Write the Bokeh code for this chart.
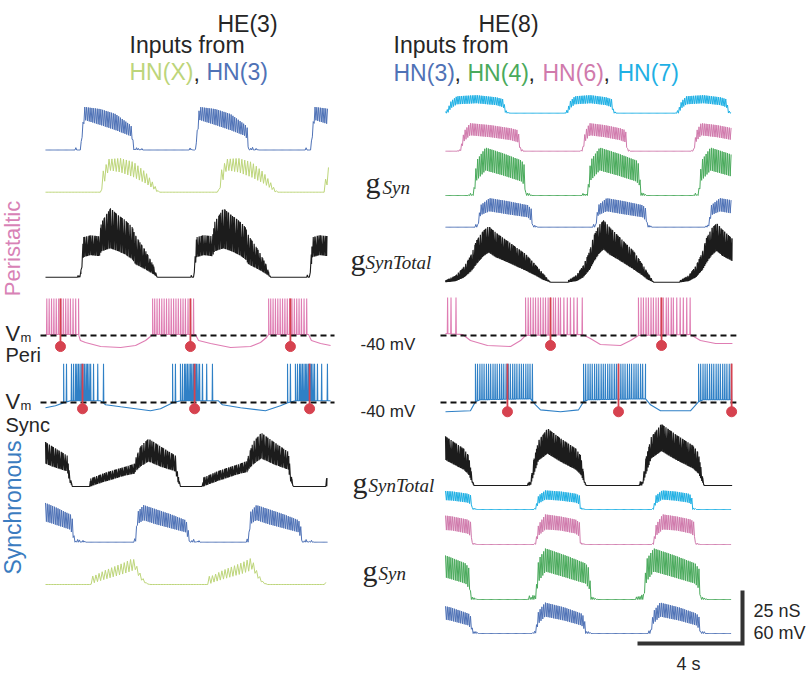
import numpy as np
from bokeh.plotting import figure
from bokeh.models import Range1d
from bokeh.embed import file_html
from bokeh.resources import INLINE
from bokeh.core.properties import value

# ---------------- scale bar values ----------------
SCALE_S = 4      # s
SCALE_NS = 25    # nS
SCALE_MV = 60    # mV
VM_REF = -40     # mV (dashed line)

# ---------------- colours ----------------
C_HN3 = "#4f72b6"
C_HNX = "#bdd57a"
C_HN4 = "#4aaa5c"
C_HN6 = "#d07aac"
C_HN7 = "#1fb0e4"
C_TOT = "#1c1c1c"
C_VPERI = "#df7db3"
C_VSYNC = "#2f80c6"
C_RED = "#d6424f"
C_TXT = "#262626"

# ---------------- conductance data (template envelopes, nS; u = fraction of burst) ----------------
# Left column (HE(3)), peristaltic
LP_HN3_U = [-0.113, -0.094, -0.057, 0, 0.075, 0.377, 0.660, 0.943, 0.981, 1.0, 1.075, 1.113, 1.151, 1.189]
LP_HN3_HI = [0, 1.4, 0, 0, 20.3, 19.3, 17.0, 11.8, 10.4, 0, 1.4, 0, 0.9, 0]
LP_HN3_LO = [0, 0, 0, 0, 14.2, 11.8, 9.4, 6.6, 4.7, 0, 0, 0, 0, 0]
LP_HN3_ON = [1.33, 5.71, 10.10]
LP_HN3_DUR = [2.02, 2.02, 2.02]

LP_HNX_U = [0, 0.035, 0.140, 0.351, 0.579, 0.789, 0.912, 1.0, 1.053]
LP_HNX_HI = [0, 9.4, 15.6, 16.0, 14.2, 9.4, 4.7, 0.9, 0]
LP_HNX_LO = [0, 2.4, 10.4, 9.4, 7.1, 4.2, 1.9, 0, 0]
LP_HNX_ON = [2.10, 6.59, 10.62]
LP_HNX_DUR = [2.17, 2.17, 2.17]

LP_TOT_U = [-0.039, -0.026, -0.013, 0, 0.039, 0.130, 0.247, 0.273, 0.390, 0.494, 0.584, 0.675, 0.714, 0.844, 0.948, 1.0, 1.039]
LP_TOT_HI = [0, 1.4, 0, 0, 18.9, 19.8, 19.3, 25.9, 32.5, 29.2, 26.9, 23.6, 19.8, 12.7, 5.7, 0, 0]
LP_TOT_LO = [0, 0, 0, 0, 9.4, 10.4, 9.9, 12.2, 13.6, 12.2, 10.7, 8.4, 6.1, 3.7, 1.4, 0, 0]
LP_TOT_ON = [1.33, 5.64, 10.06]
LP_TOT_DUR = [2.93, 2.93, 2.93]

# Left column, synchronous
LS_TOT_U = [-1.022, -1.0, -0.889, -0.667, -0.444, -0.222, -0.022, 0, 0.111, 0.289, 0.556, 0.889, 0.933, 1.0]
LS_TOT_HI = [0, 3.8, 4.7, 6.6, 8.0, 9.4, 10.8, 13.2, 18.9, 22.6, 18.9, 14.6, 7.1, 0]
LS_TOT_LO = [0, 0, 0.9, 2.4, 3.8, 5.2, 6.1, 7.1, 9.4, 11.8, 9.4, 7.1, 2.4, 0]
LS_TOT_ON = [-0.69, 3.43, 7.73, 12.40]
LS_TOT_DUR = [1.71, 1.71, 1.71, 1.71]
LS_TOT_GAIN = [1.0, 1.0, 1.12, 1.0]

LS_HN3_U = [-0.037, -0.019, 0, 0.037, 0.148, 0.370, 0.648, 0.926, 0.963, 1.0, 1.074, 1.111, 1.167, 1.204]
LS_HN3_HI = [0, 1.9, 0.9, 14.2, 17.5, 15.6, 13.2, 10.4, 8.5, 0, 1.4, 0, 0.9, 0]
LS_HN3_LO = [0, 0, 0, 8.5, 10.4, 8.5, 6.6, 4.7, 2.4, 0, 0, 0, 0, 0]
LS_HN3_ON = [-0.95, 3.43, 7.73]
LS_HN3_DUR = [2.06, 2.06, 2.06]
LS_HN3_GAIN = [1.25, 1.0, 1.0]

LS_HNX_U = [0, 0.023, 0.114, 0.341, 0.568, 0.795, 0.977, 1.023, 1.091, 1.182, 1.273, 1.364]
LS_HNX_HI = [0, 3.8, 4.2, 6.6, 8.5, 10.4, 12.3, 11.3, 7.5, 3.8, 0.9, 0]
LS_HNX_LO = [0, 0, 0.9, 2.4, 3.8, 5.2, 6.6, 7.5, 4.7, 1.9, 0.5, 0]
LS_HNX_ON = [1.68, 6.17, 10.67]
LS_HNX_DUR = [1.68, 1.68, 1.68]

# Right column (HE(8)), peristaltic
RP_HN7_U = [-0.06, 0, 0.06, 0.16, 0.5, 0.84, 0.96, 1.0, 1.04, 1.08]
RP_HN7_HI = [0, 1.9, 5.7, 8.0, 8.5, 7.5, 6.6, 1.4, 0.5, 0]
RP_HN7_LO = [0, 0, 2.4, 4.2, 4.7, 3.8, 2.8, 0, 0, 0]
RP_HN7_ON = [0.08, 4.65, 8.88]
RP_HN7_DUR = [2.21, 1.75, 1.90]

RP_HN6_U = [-0.06, 0, 0.06, 0.16, 0.5, 0.84, 0.96, 1.0, 1.06]
RP_HN6_HI = [0, 0.9, 9.4, 13.2, 12.3, 10.8, 9.9, 1.4, 0]
RP_HN6_LO = [0, 0, 4.7, 7.5, 6.6, 5.2, 4.2, 0, 0]
RP_HN6_ON = [0.57, 5.22, 9.45]
RP_HN6_DUR = [2.29, 1.71, 1.79]

RP_HN4_U = [-0.096, -0.077, -0.038, 0, 0.058, 0.231, 0.577, 0.923, 0.981, 1.0, 1.077, 1.115]
RP_HN4_HI = [0, 1.9, 0, 1.4, 16.5, 22.6, 19.8, 16.5, 14.2, 1.4, 0.9, 0]
RP_HN4_LO = [0, 0, 0, 0, 7.1, 11.8, 9.4, 6.6, 4.7, 0, 0, 0]
RP_HN4_ON = [1.07, 5.41, 9.64]
RP_HN4_DUR = [1.98, 2.02, 1.98]

RP_HN3_U = [-0.055, -0.036, 0, 0.055, 0.218, 0.545, 0.909, 0.982, 1.0, 1.055, 1.091]
RP_HN3_HI = [0, 1.4, 0.9, 10.4, 13.7, 12.3, 10.4, 8.5, 0.9, 0.9, 0]
RP_HN3_LO = [0, 0, 0, 5.7, 7.5, 6.1, 4.7, 2.8, 0, 0, 0]
RP_HN3_ON = [1.22, 5.71, 10.02]
RP_HN3_DUR = [2.10, 1.98, 1.98]

RP_TOT_U = [0, 0.094, 0.176, 0.250, 0.294, 0.360, 0.412, 0.480, 0.576, 0.680, 0.765, 0.860, 0.929, 1.0]
RP_TOT_HI = [1.0, 3.4, 8.1, 15.0, 21.8, 27.0, 29.3, 26.0, 22.2, 18.0, 14.7, 9.0, 4.6, 0]
RP_TOT_LO = [0, 0.5, 2.4, 6.0, 9.4, 13.5, 15.5, 13.0, 10.8, 8.2, 6.0, 3.4, 1.2, 0]
RP_TOT_ON = [0.0, 4.69, 8.95]
RP_TOT_DUR = [4.0, 3.24, 3.35]
RP_TOT_GAIN = [0.9, 1.0, 0.95]

# Right column, synchronous
RS_TOT_U = [-0.055, -0.036, 0, 0.055, 0.145, 0.309, 0.545, 0.818, 0.909, 0.964, 1.0]
RS_TOT_HI = [0, 1.9, 1.4, 11.8, 21.2, 26.9, 22.2, 17.5, 14.2, 5.7, 0]
RS_TOT_LO = [0, 0, 0, 4.7, 11.8, 15.0, 11.2, 7.5, 5.2, 1.9, 0]
RS_TOT_ON = [-1.03, 3.24, 7.50]
RS_TOT_DUR = [2.10, 2.10, 2.35]
RS_TOT_GAIN = [1.0, 1.0, 1.08]

RS_HN7_U = [-0.044, 0, 0.067, 0.222, 0.556, 0.889, 0.978, 1.0, 1.067, 1.111]
RS_HN7_HI = [0, 0.9, 6.6, 9.0, 8.5, 7.5, 6.6, 0.9, 0.5, 0]
RS_HN7_LO = [0, 0, 2.8, 4.7, 4.2, 3.3, 2.4, 0, 0, 0]
RS_HN7_ON = [-0.69, 3.43, 7.92]
RS_HN7_DUR = [1.71, 1.71, 1.49]

RS_HN6_U = [-0.044, 0, 0.067, 0.222, 0.556, 0.889, 0.978, 1.0, 1.067, 1.111]
RS_HN6_HI = [0, 0.9, 9.4, 14.2, 13.2, 11.8, 10.4, 0.9, 0.5, 0]
RS_HN6_LO = [0, 0, 4.2, 7.1, 6.6, 5.2, 3.8, 0, 0, 0]
RS_HN6_ON = [-0.69, 3.43, 7.92]
RS_HN6_DUR = [1.71, 1.71, 1.60]

RS_HN4_U = [-0.145, -0.109, -0.073, -0.036, 0, 0.055, 0.182, 0.545, 0.909, 0.982, 1.0, 1.055, 1.127]
RS_HN4_HI = [0, 1.9, 0.9, 2.4, 1.4, 18.9, 24.1, 20.8, 17.0, 14.2, 1.4, 0.9, 0]
RS_HN4_LO = [0, 0, 0, 0, 0, 8.5, 13.2, 10.4, 7.5, 4.7, 0, 0, 0]
RS_HN4_ON = [-1.14, 3.43, 7.54]
RS_HN4_DUR = [2.10, 2.10, 2.17]

RS_HN3_U = [-0.058, -0.038, 0, 0.058, 0.192, 0.577, 0.923, 0.981, 1.0, 1.077, 1.115]
RS_HN3_HI = [0, 1.4, 0.9, 10.4, 14.6, 12.3, 9.4, 7.5, 0.9, 0.9, 0]
RS_HN3_LO = [0, 0, 0, 4.7, 8.0, 6.1, 3.8, 1.9, 0, 0, 0]
RS_HN3_ON = [-0.95, 3.43, 7.81]
RS_HN3_DUR = [1.98, 1.90, 1.90]

# ---------------- membrane potential data (s, mV) ----------------
LP_VM_T = [0, 1.26, 1.33, 1.52, 2.10, 2.86, 3.43, 3.81, 4.00, 4.08, 5.71, 5.83, 6.29, 7.05, 7.81, 8.19, 8.42, 8.50, 10.02, 10.13, 10.48, 10.86]
LP_VM_MV = [-38.9, -38.9, -45.7, -47.9, -52.5, -53.6, -51.3, -45.7, -41.1, -38.9, -38.9, -45.7, -49.1, -53.6, -52.5, -47.9, -42.3, -38.9, -38.9, -45.7, -49.1, -51.3]
LP_SPK = [0, 0.08, 0.17, 0.26, 0.35, 0.44, 0.53, 0.62, 0.71, 0.80, 0.89, 0.98, 1.07, 1.16, 1.25, 1.35, 1.45, 1.56]
LP_BURST_ON = [-0.30, 4.08, 8.50]
LP_BURST_END = [1.26, 5.71, 10.02]
LP_SPK_PEAK = 2.0
LP_MARK_T = [0.57, 5.52, 9.33]
LP_MARK_MV = -52.5

LS_VM_T = [0, 0.38, 0.69, 0.95, 2.10, 2.29, 2.86, 4.00, 4.38, 4.84, 5.14, 6.59, 6.74, 7.43, 8.38, 8.95, 9.22, 9.52, 10.86]
LS_VM_MV = [-46.0, -43.7, -40.3, -38.1, -38.1, -42.6, -44.9, -49.4, -47.1, -40.3, -38.1, -38.1, -42.6, -46.0, -49.4, -43.7, -40.3, -38.1, -38.1]
LS_SPK = [0, 0.11, 0.30, 0.38, 0.46, 0.51, 0.57, 0.63, 0.69, 0.74, 0.80, 0.86, 0.91, 0.97, 1.03, 1.14, 1.30, 1.52]
LS_BURST_ON = [0.69, 4.84, 9.22]
LS_BURST_END = [2.21, 6.67, 10.86]
LS_SPK_PEAK = 4.0
LS_MARK_T = [1.41, 5.68, 10.06]
LS_MARK_MV = -47.1

RP_VM_T = [0, 0.65, 0.95, 1.60, 2.48, 2.86, 3.05, 5.22, 5.52, 5.90, 6.67, 7.05, 7.35, 9.33, 9.71, 10.29, 10.93]
RP_VM_MV = [-37.7, -38.9, -45.7, -51.3, -52.5, -45.7, -40.0, -38.9, -43.4, -50.2, -51.3, -45.7, -40.0, -38.9, -45.7, -49.1, -49.1]
RP_SPK = [0, 0.10, 0.19, 0.29, 0.38, 0.48, 0.57, 0.67, 0.76, 0.86, 0.95, 1.06, 1.14, 1.25, 1.33, 1.46, 1.59, 1.71, 1.84, 1.97, 2.16]
RP_BURST_ON = [-1.76, 3.05, 7.35]
RP_BURST_END = [0.45, 5.22, 9.33]
RP_SPK_PEAK = 3.0
RP_MARK_T = [4.00, 8.23]
RP_MARK_MV = -51.3

RS_VM_T = [0, 0.95, 1.14, 1.33, 3.24, 3.43, 3.62, 4.38, 5.07, 5.26, 5.45, 7.62, 7.81, 8.19, 9.33, 9.64, 9.83, 10.93]
RS_VM_MV = [-50.5, -49.4, -39.2, -36.9, -35.8, -42.6, -48.3, -50.5, -48.3, -39.2, -36.9, -35.8, -42.6, -49.4, -49.4, -39.2, -36.9, -36.9]
RS_SPK = [0, 0.08, 0.17, 0.25, 0.33, 0.42, 0.50, 0.58, 0.67, 0.75, 0.83, 0.92, 1.00, 1.08, 1.17, 1.25, 1.33, 1.42, 1.50, 1.58, 1.67, 1.75, 1.83, 1.92, 2.00, 2.08, 2.17, 2.25, 2.36]
RS_BURST_ON = [1.14, 5.26, 9.64]
RS_BURST_END = [3.31, 7.70, 10.93]
RS_SPK_PEAK = 4.0
RS_MARK_T = [2.36, 6.59, 10.90]
RS_MARK_MV = -50.5

# ---------------- layout (page pixels; the page has no margin) ----------------
PX_PER_S = 105 / SCALE_S
PX_PER_NS = 53 / SCALE_NS
PX_PER_MV = 53 / SCALE_MV
X_LEFT, X_RIGHT = 45, 445
T_END_L, T_END_R = 10.78, 10.93
W, H = 810, 673
P_DENSE = 0.068   # spike spacing used to draw dense HN bursts


def dx(px):
    return (px - X_LEFT) / PX_PER_S


def dy(py):
    return -py / PX_PER_NS


p = figure(width=W, height=H, output_backend="svg", toolbar_location=None,
           x_range=Range1d(dx(0), dx(W)), y_range=Range1d(dy(H), dy(0)),
           min_border=0, x_axis_location=None, y_axis_location=None,
           outline_line_color=None, background_fill_color="white",
           border_fill_color="white")
p.grid.visible = False


def zigzag(U, HI, LO, ON, DUR, t_end, period, period2=None, gain=None):
    s = np.arange(0, t_end + 1e-9, period)
    if period2:
        s = np.union1d(s, np.arange(period * 0.37, t_end, period2))
    tr = (s[:-1] + s[1:]) / 2.0
    t = np.empty(len(s) + len(tr))
    t[0::2] = s
    t[1::2] = tr
    is_peak = np.zeros(len(t), dtype=bool)
    is_peak[0::2] = True
    hi = np.zeros_like(t)
    lo = np.zeros_like(t)
    for k, (on, d) in enumerate(zip(ON, DUR)):
        g = gain[k] if gain else 1.0
        u = (t - on) / d
        hi += g * np.interp(u, U, HI, left=0, right=0)
        lo += g * np.interp(u, U, LO, left=0, right=0)
    return t, np.where(is_peak, hi, lo)


def g_trace(col_x, base_py, U, HI, LO, ON, DUR, t_end, period, color, gain=None,
            lw=1.0, period2=None):
    t, y = zigzag(U, HI, LO, ON, DUR, t_end, period, period2, gain)
    p.line(t + dx(col_x), y + dy(base_py), line_color=color, line_width=lw)


def vm_y(mv, dash_py):
    return dy(dash_py) + (np.asarray(mv) - VM_REF) * PX_PER_MV / PX_PER_NS


def vm_trace(col_x, dash_py, T, MV, SPK, B_ON, B_END, peak, t_end, color,
             mark_t, mark_mv, w=0.012):
    spikes = []
    for on, end in zip(B_ON, B_END):
        for r in SPK:
            s = on + r
            if 0.0 <= s <= min(end, t_end):
                spikes.append(s)
    ev = [(t, np.interp(t, T, MV)) for t in T]
    for s in spikes:
        ev += [(s - w, np.interp(s - w, T, MV)), (s, peak), (s + w, np.interp(s + w, T, MV))]
    ev.sort(key=lambda e: e[0])
    tt = np.array([e[0] for e in ev])
    vv = np.array([e[1] for e in ev])
    p.line(tt + dx(col_x), vm_y(vv, dash_py), line_color=color, line_width=1.1)
    p.line([dx(col_x - 5), dx(col_x) + t_end + 0.15], [vm_y(VM_REF, dash_py)] * 2,
           line_color="#111111", line_width=2, line_dash="6 4")
    mt = np.asarray(mark_t) + dx(col_x)
    p.segment(x0=mt, y0=[vm_y(peak, dash_py)] * len(mt), x1=mt,
              y1=[vm_y(mark_mv, dash_py)] * len(mt), line_color=C_RED, line_width=1.8)
    p.scatter(mt, [vm_y(mark_mv, dash_py)] * len(mt), size=10, fill_color=C_RED,
              line_color=C_RED)


# ---- left column ----
g_trace(X_LEFT, 149.5, LP_HN3_U, LP_HN3_HI, LP_HN3_LO, LP_HN3_ON, LP_HN3_DUR, T_END_L, P_DENSE, C_HN3)
g_trace(X_LEFT, 191.7, LP_HNX_U, LP_HNX_HI, LP_HNX_LO, LP_HNX_ON, LP_HNX_DUR, T_END_L, 0.11, C_HNX)
g_trace(X_LEFT, 276.7, LP_TOT_U, LP_TOT_HI, LP_TOT_LO, LP_TOT_ON, LP_TOT_DUR, T_END_L, 0.075, C_TOT,
        lw=1.1, period2=0.11)
vm_trace(X_LEFT, 335, LP_VM_T, LP_VM_MV, LP_SPK, LP_BURST_ON, LP_BURST_END, LP_SPK_PEAK, 10.86,
         C_VPERI, LP_MARK_T, LP_MARK_MV)
vm_trace(X_LEFT, 402, LS_VM_T, LS_VM_MV, LS_SPK, LS_BURST_ON, LS_BURST_END, LS_SPK_PEAK, 10.86,
         C_VSYNC, LS_MARK_T, LS_MARK_MV)
g_trace(X_LEFT, 486, LS_TOT_U, LS_TOT_HI, LS_TOT_LO, LS_TOT_ON, LS_TOT_DUR, T_END_L, 0.075, C_TOT,
        gain=LS_TOT_GAIN, lw=1.1, period2=0.12)
g_trace(X_LEFT, 541.7, LS_HN3_U, LS_HN3_HI, LS_HN3_LO, LS_HN3_ON, LS_HN3_DUR, T_END_L, P_DENSE, C_HN3,
        gain=LS_HN3_GAIN)
g_trace(X_LEFT, 584, LS_HNX_U, LS_HNX_HI, LS_HNX_LO, LS_HNX_ON, LS_HNX_DUR, T_END_L, 0.12, C_HNX)

# ---- right column ----
g_trace(X_RIGHT, 112.7, RP_HN7_U, RP_HN7_HI, RP_HN7_LO, RP_HN7_ON, RP_HN7_DUR, T_END_R, P_DENSE, C_HN7)
g_trace(X_RIGHT, 150.7, RP_HN6_U, RP_HN6_HI, RP_HN6_LO, RP_HN6_ON, RP_HN6_DUR, T_END_R, P_DENSE, C_HN6)
g_trace(X_RIGHT, 195, RP_HN4_U, RP_HN4_HI, RP_HN4_LO, RP_HN4_ON, RP_HN4_DUR, T_END_R, P_DENSE, C_HN4)
g_trace(X_RIGHT, 226.7, RP_HN3_U, RP_HN3_HI, RP_HN3_LO, RP_HN3_ON, RP_HN3_DUR, T_END_R, P_DENSE, C_HN3)
g_trace(X_RIGHT, 281.7, RP_TOT_U, RP_TOT_HI, RP_TOT_LO, RP_TOT_ON, RP_TOT_DUR, T_END_R, 0.07, C_TOT,
        gain=RP_TOT_GAIN, lw=1.1, period2=0.093)
vm_trace(X_RIGHT, 335, RP_VM_T, RP_VM_MV, RP_SPK, RP_BURST_ON, RP_BURST_END, RP_SPK_PEAK, T_END_R,
         C_VPERI, RP_MARK_T, RP_MARK_MV)
vm_trace(X_RIGHT, 402, RS_VM_T, RS_VM_MV, RS_SPK, RS_BURST_ON, RS_BURST_END, RS_SPK_PEAK, T_END_R,
         C_VSYNC, RS_MARK_T, RS_MARK_MV)
g_trace(X_RIGHT, 485, RS_TOT_U, RS_TOT_HI, RS_TOT_LO, RS_TOT_ON, RS_TOT_DUR, T_END_R, 0.07, C_TOT,
        gain=RS_TOT_GAIN, lw=1.1, period2=0.093)
g_trace(X_RIGHT, 509, RS_HN7_U, RS_HN7_HI, RS_HN7_LO, RS_HN7_ON, RS_HN7_DUR, T_END_R, P_DENSE, C_HN7)
g_trace(X_RIGHT, 544, RS_HN6_U, RS_HN6_HI, RS_HN6_LO, RS_HN6_ON, RS_HN6_DUR, T_END_R, P_DENSE, C_HN6)
g_trace(X_RIGHT, 599, RS_HN4_U, RS_HN4_HI, RS_HN4_LO, RS_HN4_ON, RS_HN4_DUR, T_END_R, P_DENSE, C_HN4)
g_trace(X_RIGHT, 633, RS_HN3_U, RS_HN3_HI, RS_HN3_LO, RS_HN3_ON, RS_HN3_DUR, T_END_R, P_DENSE, C_HN3)

# ---- scale bar ----
SB_X, SB_Y = 742, 643
p.line([dx(SB_X) - SCALE_S, dx(SB_X), dx(SB_X)],
       [dy(SB_Y), dy(SB_Y), dy(SB_Y) + SCALE_NS],
       line_color="#333333", line_width=4, line_join="miter")


# ---- texts ----
def label(px, py, s, size, color=C_TXT, font="Liberation Sans", style="normal",
          align="left", baseline="alphabetic", angle=0.0):
    p.text(x=[dx(px)], y=[dy(py)], text=[s], text_font=value(font),
           text_font_size=f"{size}px", text_font_style=style, text_color=color,
           text_align=align, text_baseline=baseline, angle=angle)


label(753, 610, "25 nS", 18)
label(753, 632, "60 mV", 18)
label(688, 663, "4 s", 18, align="center")

label(217, 23, "HE(3)", 23)
label(129, 44, "Inputs from", 23)
label(129, 71.5, "HN(X)", 23, color=C_HNX)
label(193, 71.5, ",", 23)
label(206, 71.5, "HN(3)", 23, color=C_HN3)

label(478, 23, "HE(8)", 23)
label(393, 44, "Inputs from", 23)
label(393, 72, "HN(3)", 23, color=C_HN3)
label(454, 72, ",", 23)
label(467, 72, "HN(4)", 23, color=C_HN4)
label(528, 72, ",", 23)
label(542, 72, "HN(6)", 23, color=C_HN6)
label(603, 72, ",", 23)
label(617, 72, "HN(7)", 23, color=C_HN7)

label(12, 248, "Peristaltic", 22, color="#d882b6", align="center", baseline="middle", angle=np.pi / 2)
label(12, 507, "Synchronous", 23, color="#3b7cc0", align="center", baseline="middle", angle=np.pi / 2)

label(5, 333, "V", 22)
label(20, 337, "m", 13)
label(5, 354, "Peri", 20)
label(5, 401, "V", 22)
label(20, 405, "m", 13)
label(5, 424, "Sync", 20)

label(360, 344, "-40 mV", 17)
label(360, 411, "-40 mV", 17)

SERIF = "Liberation Serif"
label(365, 181.5, "g", 30, font=SERIF)
label(382, 187, "Syn", 19, font=SERIF, style="italic")
label(350, 258.5, "g", 30, font=SERIF)
label(365, 262, "SynTotal", 19, font=SERIF, style="italic")
label(352, 481.5, "g", 30, font=SERIF)
label(368, 485, "SynTotal", 19, font=SERIF, style="italic")
label(362, 570, "g", 30, font=SERIF)
label(378, 573, "Syn", 19, font=SERIF, style="italic")

open("out.html", "w").write(file_html(p, INLINE))
